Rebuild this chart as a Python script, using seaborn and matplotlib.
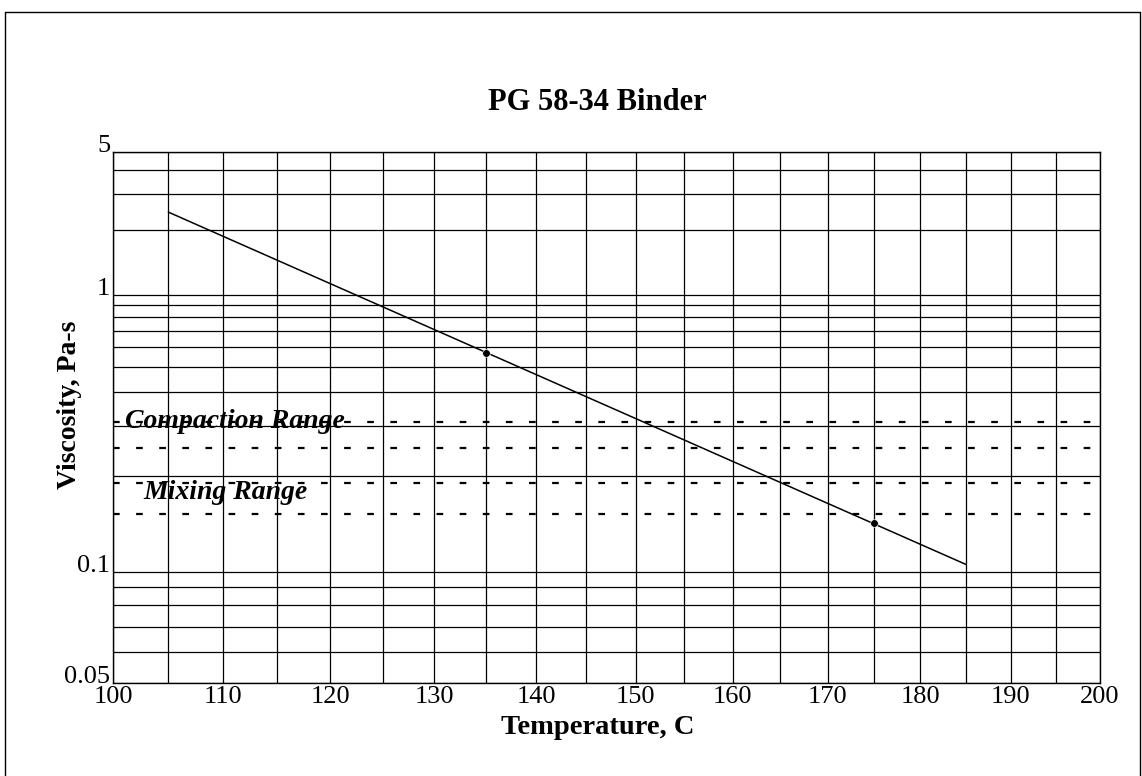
import numpy as np
import pandas as pd
import matplotlib
matplotlib.use("Agg")
import matplotlib.pyplot as plt
from matplotlib.ticker import FixedLocator, NullFormatter
from matplotlib.lines import Line2D
import seaborn as sns

# fitted line (end points) and measured points
line_temp = [105, 185]
line_visc = [2.44, 0.105]
meas_temp = [135, 175]
meas_visc = [0.57, 0.14]

compaction_range = [0.25, 0.31]
mixing_range = [0.15, 0.19]

x_major = [100, 110, 120, 130, 140, 150, 160, 170, 180, 190, 200]
x_minor = [105, 115, 125, 135, 145, 155, 165, 175, 185, 195]
y_major = [0.05, 0.1, 1, 5]
y_minor = [0.06, 0.07, 0.08, 0.09, 0.2, 0.3, 0.4, 0.5, 0.6, 0.7, 0.8, 0.9, 2, 3, 4]

sns.set_theme(style="white")
plt.rcParams["font.family"] = ["Liberation Serif", "DejaVu Serif"]
plt.rcParams.update({"text.color": "black", "axes.labelcolor": "black",
                     "xtick.color": "black", "ytick.color": "black"})


# ASTM style chart: log-log viscosity (cP) vs log absolute temperature
def fx(t):
    return np.log10(np.asarray(t, dtype=float) + 273.15)


def fx_inv(v):
    return 10 ** np.asarray(v, dtype=float) - 273.15


def fy(v):
    v = np.clip(np.asarray(v, dtype=float) * 1000.0, 1.0001, None)
    return np.log10(np.log10(v))


def fy_inv(v):
    return 10 ** (10 ** np.asarray(v, dtype=float)) / 1000.0


fig = plt.figure(figsize=(11.42, 7.76), dpi=100)
ax = fig.add_axes([0.099, 0.12, 0.864, 0.684])
ax.set_xscale("function", functions=(fx, fx_inv))
ax.set_yscale("function", functions=(fy, fy_inv))
ax.set_xlim(100, 200)
ax.set_ylim(0.05, 5)

ax.xaxis.set_major_locator(FixedLocator(x_major))
ax.xaxis.set_minor_locator(FixedLocator(x_minor))
ax.xaxis.set_minor_formatter(NullFormatter())
ax.set_xticklabels([str(t) for t in x_major])
ax.yaxis.set_major_locator(FixedLocator(y_major))
ax.yaxis.set_minor_locator(FixedLocator(y_minor))
ax.yaxis.set_minor_formatter(NullFormatter())
ax.set_yticklabels(["0.05", "0.1", "1", "5"])

ax.grid(True, which="both", color="black", linewidth=0.9)
ax.tick_params(which="both", length=0, labelsize=19, colors="black")
ax.tick_params(axis="x", pad=2)
ax.tick_params(axis="y", pad=2)
for lab in ax.get_yticklabels():
    lab.set_va("baseline")
for s in ax.spines.values():
    s.set_color("black")
    s.set_linewidth(1.0)

for yv in compaction_range + mixing_range:
    ax.hlines(yv, 100, 200, colors="black", linestyles=(0, (3, 7.4)), linewidth=1.6)

df_line = pd.DataFrame({"temp": line_temp, "visc": line_visc})
df_pts = pd.DataFrame({"temp": meas_temp, "visc": meas_visc})
sns.lineplot(data=df_line, x="temp", y="visc", color="black", linewidth=1.1, ax=ax)
sns.scatterplot(data=df_pts, x="temp", y="visc", color="black", s=30, ax=ax, zorder=5)

ax.text(101.1, 0.31, "Compaction Range", fontsize=20, fontweight="bold",
        fontstyle="italic", va="center", ha="left", color="black")
ax.text(102.7, 0.176, "Mixing Range", fontsize=20, fontweight="bold",
        fontstyle="italic", va="center", ha="left", color="black")

ax.set_title("PG 58-34 Binder", fontsize=22, fontweight="bold", pad=30,
             color="black", x=0.491)
ax.set_xlabel("Temperature, C", fontsize=20.5, fontweight="bold")
ax.set_ylabel("Viscosity, Pa-s", fontsize=20, fontweight="bold")
ax.xaxis.set_label_coords(0.491, -0.060)
ax.yaxis.set_label_coords(-0.0314, 0.5235)

# page border of the scanned sheet
fig.add_artist(Line2D([5 / 1142, 5 / 1142], [0, 1 - 12 / 776], color="black", lw=1))
fig.add_artist(Line2D([5 / 1142, 1140 / 1142], [1 - 12 / 776, 1 - 12 / 776], color="black", lw=1))
fig.add_artist(Line2D([1140 / 1142, 1140 / 1142], [0, 1 - 12 / 776], color="black", lw=1))

fig.savefig("out.png", dpi=100)
